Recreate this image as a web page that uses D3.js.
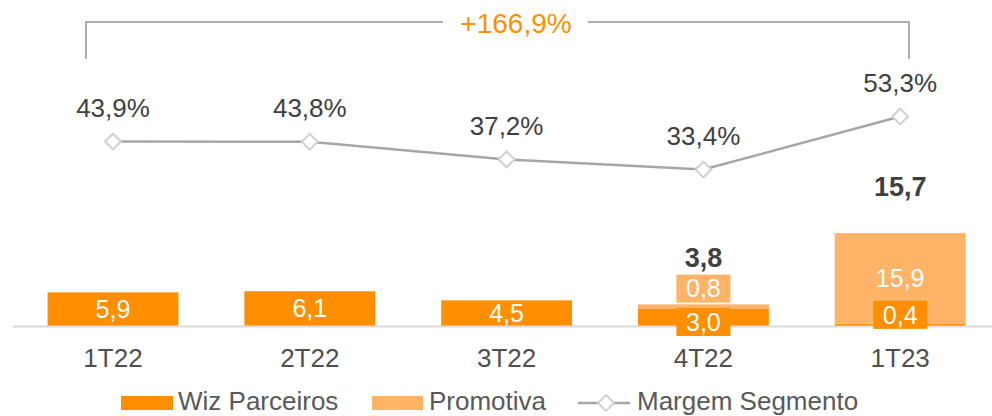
<!DOCTYPE html>
<html>
<head>
<meta charset="utf-8">
<script src="https://cdn.jsdelivr.net/npm/d3@7"></script>
<style>
  body { margin: 0; background: #fff; }
  svg { display: block; font-family: "Liberation Sans", Arial, sans-serif; }
</style>
</head>
<body>
<svg width="992" height="416"></svg>
<script>
var categories = ["1T22", "2T22", "3T22", "4T22", "1T23"];
var wiz = [5.9, 6.1, 4.5, 3.0, 0.4];
var promotiva = [0, 0, 0, 0.8, 15.9];
var totals = [null, null, null, 3.8, 15.7];
var margem = [43.9, 43.8, 37.2, 33.4, 53.3];
var growthLabel = "+166,9%";

var orange = "#ff8f00";
var light = "#ffb366";
var textColor = "#404040";

var svg = d3.select("svg");
var width = +svg.attr("width");
var height = +svg.attr("height");

var fmt = function(v) { return d3.format(".1f")(v).replace(".", ","); };

var x = d3.scaleBand()
	.domain(categories)
	.range([14.6, 998.6])
	.paddingInner(0.335)
	.paddingOuter(0.1675);

var y = d3.scaleLinear()
	.domain([0, 20])
	.range([326, 212]);

var yLine = d3.scaleLinear()
	.domain([30, 55])
	.range([178.6, 111.9]);

var data = categories.map((c, i) => ({
	cat: c, wiz: wiz[i], promotiva: promotiva[i], total: totals[i], margem: margem[i]
}));

var stack = d3.stack().keys(["wiz", "promotiva"])(data);
var colors = { wiz: orange, promotiva: light };

// bars
stack.forEach(layer => {
	svg.append("g").selectAll("rect")
		.data(layer)
		.enter().append("rect")
		.attr("x", d => x(d.data.cat))
		.attr("width", x.bandwidth())
		.attr("y", d => y(d[1]))
		.attr("height", d => y(d[0]) - y(d[1]))
		.attr("fill", colors[layer.key]);
});

// baseline
svg.append("line")
	.attr("x1", 13).attr("x2", width)
	.attr("y1", 326.5).attr("y2", 326.5)
	.attr("stroke", "#d9d9d9")
	.attr("stroke-width", 2);

// value labels; small segments get a box and a nudge
var nudge = { "4T22-wiz": 4.5, "4T22-promotiva": -18, "1T23-wiz": -10 };
stack.forEach(layer => {
	layer.forEach(d => {
		var v = d[1] - d[0];
		if (v <= 0) return;
		var cx = x(d.data.cat) + x.bandwidth() / 2;
		var cy = (y(d[0]) + y(d[1])) / 2;
		var key = d.data.cat + "-" + layer.key;
		var small = (y(d[0]) - y(d[1])) < 24;
		if (nudge[key]) cy += nudge[key];
		if (small) {
			svg.append("rect")
				.attr("x", cx - 27).attr("y", cy - 14)
				.attr("width", 54).attr("height", 28)
				.attr("fill", colors[layer.key]);
		}
		svg.append("text")
			.attr("x", cx).attr("y", cy)
			.attr("dy", "0.35em")
			.attr("text-anchor", "middle")
			.attr("font-size", 25)
			.attr("fill", "#fff")
			.text(fmt(v));
	});
});

// totals
svg.append("g").selectAll("text")
	.data(data.filter(d => d.total != null))
	.enter().append("text")
	.attr("x", d => x(d.cat) + x.bandwidth() / 2)
	.attr("y", d => y(d.wiz + d.promotiva) - 47)
	.attr("dy", "0.35em")
	.attr("text-anchor", "middle")
	.attr("font-size", 27)
	.attr("font-weight", "bold")
	.attr("fill", textColor)
	.text(d => fmt(d.total));

// category axis labels
svg.append("g").selectAll("text")
	.data(categories)
	.enter().append("text")
	.attr("x", d => x(d) + x.bandwidth() / 2)
	.attr("y", 367)
	.attr("text-anchor", "middle")
	.attr("font-size", 26)
	.attr("fill", "#505050")
	.text(d => d);

// margin line
var line = d3.line()
	.x(d => x(d.cat) + x.bandwidth() / 2)
	.y(d => yLine(d.margem));

svg.append("path")
	.datum(data)
	.attr("d", line)
	.attr("fill", "none")
	.attr("stroke", "#a6a6a6")
	.attr("stroke-width", 2.5);

var diamond = d3.symbol().type(d3.symbolDiamond2).size(160);

svg.append("g").selectAll("path")
	.data(data)
	.enter().append("path")
	.attr("d", diamond)
	.attr("transform", d => "translate(" + (x(d.cat) + x.bandwidth() / 2) + "," + yLine(d.margem) + ")")
	.attr("fill", "#fff")
	.attr("stroke", "#d0d0d0")
	.attr("stroke-width", 2);

svg.append("g").selectAll("text")
	.data(data)
	.enter().append("text")
	.attr("x", d => x(d.cat) + x.bandwidth() / 2)
	.attr("y", d => yLine(d.margem) - 24.5)
	.attr("text-anchor", "middle")
	.attr("font-size", 26)
	.attr("fill", textColor)
	.text(d => fmt(d.margem) + "%");

// growth bracket
var bx1 = 86, bx2 = 909, by = 22, byEnd = 59;
svg.append("path")
	.attr("d", "M" + bx1 + "," + byEnd + "V" + by + "H" + 443 + "M" + 588 + "," + by + "H" + bx2 + "V" + byEnd)
	.attr("fill", "none")
	.attr("stroke", "#adadad")
	.attr("stroke-width", 2);

svg.append("text")
	.attr("x", 516).attr("y", 33)
	.attr("text-anchor", "middle")
	.attr("font-size", 28)
	.attr("fill", orange)
	.text(growthLabel);

// legend
var legend = svg.append("g").attr("font-size", 26).attr("fill", "#595959");
legend.append("rect").attr("x", 121).attr("y", 396).attr("width", 52).attr("height", 14).attr("fill", orange);
legend.append("text").attr("x", 178).attr("y", 410).text("Wiz Parceiros");
legend.append("rect").attr("x", 372).attr("y", 396).attr("width", 51).attr("height", 14).attr("fill", light);
legend.append("text").attr("x", 429).attr("y", 410).text("Promotiva");
legend.append("line").attr("x1", 578).attr("x2", 630).attr("y1", 403).attr("y2", 403)
	.attr("stroke", "#a6a6a6").attr("stroke-width", 2.5);
legend.append("path").attr("d", diamond)
	.attr("transform", "translate(606,403)")
	.attr("fill", "#fff").attr("stroke", "#d0d0d0").attr("stroke-width", 2);
legend.append("text").attr("x", 637).attr("y", 410).text("Margem Segmento");
</script>
</body>
</html>
